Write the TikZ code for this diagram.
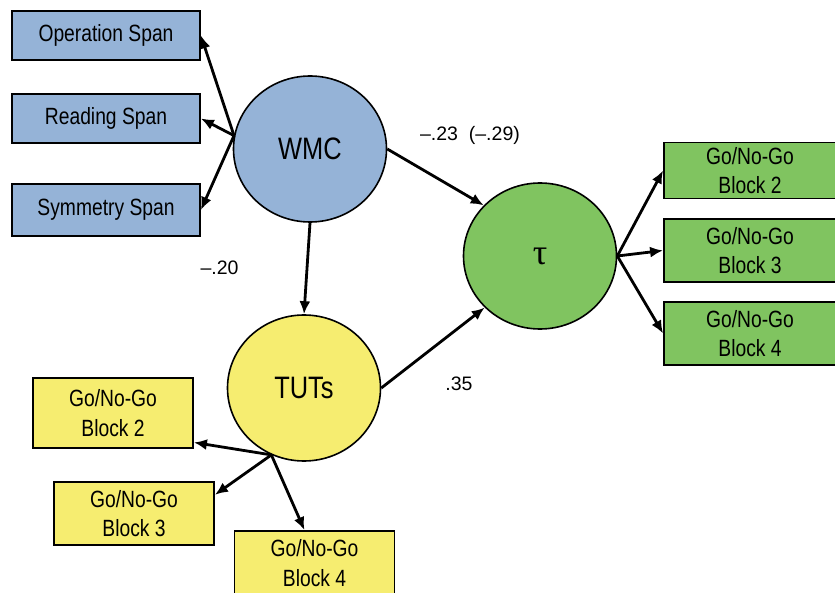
\documentclass[tikz,border=0pt]{standalone}
\usepackage{fontspec}
\setmainfont{Liberation Sans}
\newfontfamily\condfont[FakeStretch=0.82]{Liberation Sans}
\newfontfamily\greekfont{Liberation Serif}
\usetikzlibrary{shapes.geometric,arrows.meta}
\definecolor{wmcblue}{RGB}{149,179,215}
\definecolor{taugreen}{RGB}{128,196,96}
\definecolor{tutyellow}{RGB}{246,237,112}

\begin{document}
\begin{tikzpicture}[x=1pt,y=-1pt,
  lat/.style={ellipse,draw,line width=1.6pt,minimum width=153pt,minimum height=146pt,inner sep=0pt,font=\condfont\fontsize{31}{36}\selectfont},
  box/.style={rectangle,draw,line width=1.8pt,inner sep=0pt,align=center,font=\condfont\fontsize{23.5}{29.5}\selectfont},
  arr/.style={-{Latex[length=13pt,width=11pt]},line width=2.8pt},
  est/.style={font=\fontsize{19.5}{23}\selectfont}]
  \useasboundingbox (0,0) rectangle (835,593);
  % latent variables
  \node[lat,fill=wmcblue] (wmc) at (310,149) {WMC};
  \node[lat,fill=taugreen] (tau) at (540,256) {\greekfont\fontsize{36}{40}\selectfont τ};
  \node[lat,fill=tutyellow] (tuts) at (304,388) {TUTs};
  % WMC indicators
  \node[box,fill=wmcblue,minimum width=188pt,minimum height=49pt] (ospan) at (106,35.5) {Operation Span};
  \node[box,fill=wmcblue,minimum width=188pt,minimum height=49pt] (rspan) at (106,118.5) {Reading Span};
  \node[box,fill=wmcblue,minimum width=188pt,minimum height=52pt] (sspan) at (106,210) {Symmetry Span};
  % tau indicators
  \node[box,fill=taugreen,minimum width=172pt,minimum height=56pt] (gtau2) at (750,170.5) {Go/No-Go\\Block 2};
  \node[box,fill=taugreen,minimum width=172pt,minimum height=63pt] (gtau3) at (750,250.5) {Go/No-Go\\Block 3};
  \node[box,fill=taugreen,minimum width=172pt,minimum height=63pt] (gtau4) at (750,333.5) {Go/No-Go\\Block 4};
  % TUT indicators
  \node[box,fill=tutyellow,minimum width=160pt,minimum height=70pt] (ytut2) at (113,413) {Go/No-Go\\Block 2};
  \node[box,fill=tutyellow,minimum width=160pt,minimum height=63pt] (ytut3) at (134,513.5) {Go/No-Go\\Block 3};
  \node[box,fill=tutyellow,minimum width=160pt,minimum height=64pt] (ytut4) at (314.5,563) {Go/No-Go\\Block 4};
  % loadings
  \draw[arr] (wmc.170) -- (ospan.east);
  \draw[arr] (wmc.170) -- (rspan.east);
  \draw[arr] (wmc.170) -- (sspan.east);
  \draw[arr] (tau.east) -- (gtau2.west);
  \draw[arr] (tau.east) -- (gtau3.west);
  \draw[arr] (tau.east) -- (gtau4.west);
  \draw[arr] (tuts.244) -- (ytut2.340);
  \draw[arr] (tuts.244) -- (ytut3.13);
  \draw[arr] (tuts.244) -- (ytut4.107);
  % structural paths
  \draw[arr] (wmc.south) -- (tuts.north);
  \draw[arr] (wmc.east) -- (tau.138);
  \draw[arr] (tuts.east) -- (tau.223);
  \node[est] (p1) at (470,135) {--.23~~(--.29)};
  \node[est] (p2) at (219.5,268) {--.20};
  \node[est] (p3) at (459,384) {.35};
\end{tikzpicture}
\end{document}
